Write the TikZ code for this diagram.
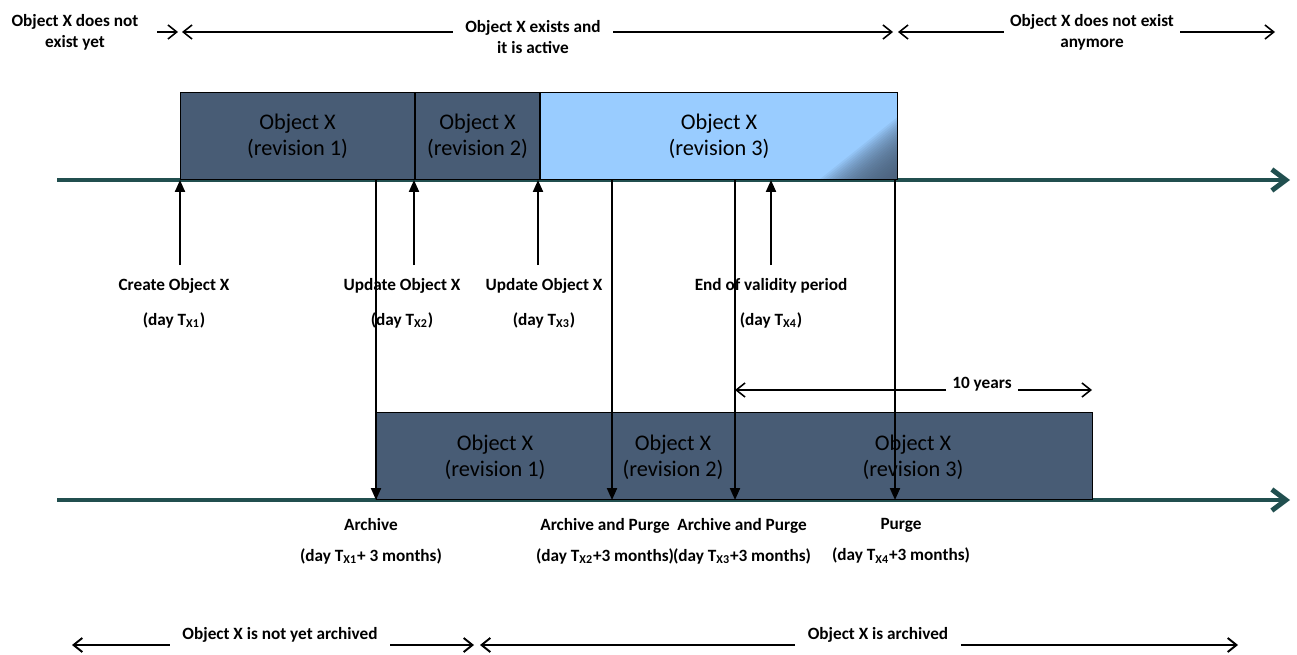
\documentclass[tikz,border=0pt]{standalone}
\usepackage{fontspec}
\setmainfont{Carlito}
\usepackage{xcolor}
\usepackage{tikz}
\usetikzlibrary{arrows.meta, positioning}

\definecolor{revdark}{RGB}{72,92,117}
\definecolor{revlight}{RGB}{153,204,255}
\definecolor{axisteal}{RGB}{33,79,79}

\begin{document}
\begin{tikzpicture}[
    x=0.02cm, y=-0.02cm,
    every node/.style={font=\fontsize{9.8}{11.9}\selectfont\bfseries, align=center},
    revtext/.style={font=\fontsize{12.7}{14.7}\selectfont},
    revbox/.style={revtext, draw, line width=0.6pt, minimum height=1.74cm,
                   inner sep=0pt, anchor=south west},
    timeline/.style={axisteal, line width=2.8pt, -{Straight Barb[length=8pt, width=12pt]}},
    event/.style={line width=1.1pt, -{Triangle[length=6.8pt, width=5.7pt]}},
    span/.style={line width=0.9pt, -{Straight Barb[length=5pt, width=8pt]}},
    wide/.style={inner xsep=7pt},
  ]
  \useasboundingbox (0,0) rectangle (1297,655);

  \draw[timeline] (57,180) coordinate (live0) -- (1290,180) coordinate (live1);
  \draw[timeline] (57,500) coordinate (arch0) -- (1290,500) coordinate (arch1);

  \node[revbox, fill=revdark, minimum width=4.68cm] (rev1) at (180,180) {Object X\\(revision 1)};
  \node[revbox, fill=revdark, minimum width=2.48cm] (rev2) at (rev1.south east) {Object X\\(revision 2)};
  \node[revbox, fill=revlight, minimum width=7.14cm,
        path picture={\foreach \s in {3,6,...,78}
          \fill[revdark, opacity=0.085] (path picture bounding box.south east)
            -- ++(-\s,0) -- ++(\s,-0.8*\s) -- cycle;}]
    (rev3) at (rev2.south east) {Object X\\(revision 3)};

  \node[revbox, fill=revdark, minimum width=14.32cm] (store) at (376,500) {};
  \node[revtext] (arev1) at (495,457) {Object X\\(revision 1)};
  \node[revtext] (arev2) at (673,457) {Object X\\(revision 2)};
  \node[revtext] (arev3) at (913,457) {Object X\\(revision 3)};

  \foreach \x [count=\i] in {180,414,538,771} {
    \coordinate (ev\i) at (\x,265);
    \draw[event] (ev\i) -- (ev\i |- live0);
  }
  \foreach \x [count=\i] in {376,612,735,895} {
    \coordinate (cut\i) at (\x,180);
    \draw[event] (cut\i) -- (cut\i |- arch0);
  }

  \node (create) at (174,303) {Create Object X\\[7.9pt](day T\textsubscript{X1})};
  \node (upd2) at (402,303) {Update Object X\\[7.9pt](day T\textsubscript{X2})};
  \node (upd3) at (544,303) {Update Object X\\[7.9pt](day T\textsubscript{X3})};
  \node (endval) at (771,303) {End of validity period\\[7.9pt](day T\textsubscript{X4})};

  \node (archlbl) at (371,541) {Archive\\[5.7pt](day T\textsubscript{X1}+ 3 months)};
  \node (ap2) at (605,541) {Archive and Purge\\[5.7pt](day T\textsubscript{X2}+3 months)};
  \node (ap3) at (742,541) {Archive and Purge\\[5.7pt](day T\textsubscript{X3}+3 months)};
  \node (purge) at (901,541) {Purge\\[5.7pt](day T\textsubscript{X4}+3 months)};

  \coordinate (ten0) at (735,390);
  \coordinate (ten1) at (1092,390);
  \node (tenyears) at (982,384) {10 years};
  \draw[span] (tenyears.west |- ten0) -- (ten0);
  \draw[span] (tenyears.east |- ten0) -- (ten1);

  \node (notyet) at (75,32) {Object X does not\\exist yet};
  \node[wide] (active) at (533,37) {Object X exists and\\it is active};
  \node (gone) at (1092,32) {Object X does not exist\\anymore};
  \coordinate (h0) at (157,32);
  \coordinate (h1) at (178,32);
  \coordinate (h2) at (182,32);
  \coordinate (h3) at (893,32);
  \coordinate (h4) at (898,32);
  \coordinate (h5) at (1275,32);
  \draw[span] (h0) -- (h1);
  \draw[span] (active.west |- h2) -- (h2);
  \draw[span] (active.east |- h3) -- (h3);
  \draw[span] (gone.west |- h4) -- (h4);
  \draw[span] (gone.east |- h5) -- (h5);

  \node[wide] (unarch) at (280,635) {Object X is not yet archived};
  \node[wide] (arched) at (878,635) {Object X is archived};
  \coordinate (f0) at (72,645);
  \coordinate (f1) at (474,645);
  \coordinate (f2) at (480,645);
  \coordinate (f3) at (1238,645);
  \draw[span, line width=1.1pt] (unarch.west |- f0) -- (f0);
  \draw[span, line width=1.1pt] (unarch.east |- f1) -- (f1);
  \draw[span, line width=1.1pt] (arched.west |- f2) -- (f2);
  \draw[span, line width=1.1pt] (arched.east |- f3) -- (f3);
\end{tikzpicture}
\end{document}
